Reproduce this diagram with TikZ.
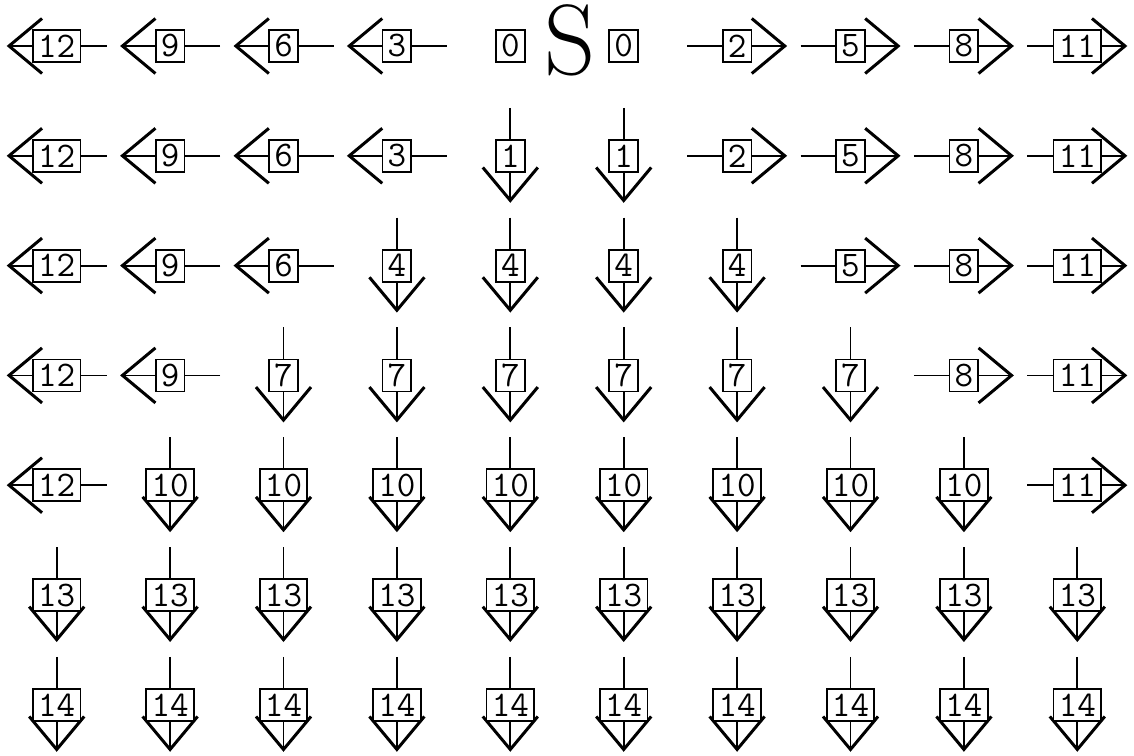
\documentclass[tikz,border=0pt]{standalone}
\usepackage{tikz}
\usetikzlibrary{arrows.meta}

\begin{document}
\begin{tikzpicture}[
        x=56.7pt, y=-54.9pt,
        numbox/.style={draw, fill=white, line width=0.9pt, inner xsep=2.6pt,
                       inner ysep=0pt, minimum height=16pt,
                       font=\fontsize{18}{18}\selectfont\ttfamily},
        ln/.style={line width=0.9pt,
                   -{Straight Barb[length=16.5pt, width=27.5pt, line width=1.5pt]}},
      ]
      \useasboundingbox (0,0) rectangle (10,6.885);

      % Start cell
      \node[numbox] (z-l) at (4.5,0.419) {0};
      \node[numbox] (z-r) at (5.5,0.419) {0};
      \node[inner sep=0pt, font=\fontsize{50}{50}\selectfont] (S) at (5.026,0.37) {S};

      % Arrows to the left
      \foreach \r/\m in {1/4, 2/4, 3/3, 4/2, 5/1} {
        \foreach \c in {1,...,\m} {
          \pgfmathtruncatemacro\v{15-3*\c}
          \coordinate (c-\r-\c) at (\c-0.5,\r-0.581);
          \coordinate (t-\r-\c) at ([xshift=25pt]c-\r-\c);
          \coordinate (h-\r-\c) at ([xshift=-25pt]c-\r-\c);
          \draw[ln] (t-\r-\c) -- (h-\r-\c);
          \node[numbox] (b-\r-\c) at (c-\r-\c) {\v};
        }
      }

      % Arrows to the right
      \foreach \r/\m in {1/7, 2/7, 3/8, 4/9, 5/10} {
        \foreach \c in {\m,...,10} {
          \pgfmathtruncatemacro\v{3*\c-19}
          \coordinate (c-\r-\c) at (\c-0.5,\r-0.581);
          \coordinate (t-\r-\c) at ([xshift=-25pt]c-\r-\c);
          \coordinate (h-\r-\c) at ([xshift=25pt]c-\r-\c);
          \draw[ln] (t-\r-\c) -- (h-\r-\c);
          \node[numbox] (b-\r-\c) at (c-\r-\c) {\v};
        }
      }

      % Arrows down
      \foreach \r/\a/\b/\v in {2/5/6/1, 3/4/7/4, 4/3/8/7, 5/2/9/10, 6/1/10/13, 7/1/10/14} {
        \foreach \c in {\a,...,\b} {
          \coordinate (c-\r-\c) at (\c-0.5,\r-0.581);
          \coordinate (t-\r-\c) at ([yshift=24pt]c-\r-\c);
          \coordinate (h-\r-\c) at ([yshift=-23.5pt]c-\r-\c);
          \draw[ln] (t-\r-\c) -- (h-\r-\c);
          \node[numbox] (b-\r-\c) at (c-\r-\c) {\v};
        }
      }
      \end{tikzpicture}
\end{document}
